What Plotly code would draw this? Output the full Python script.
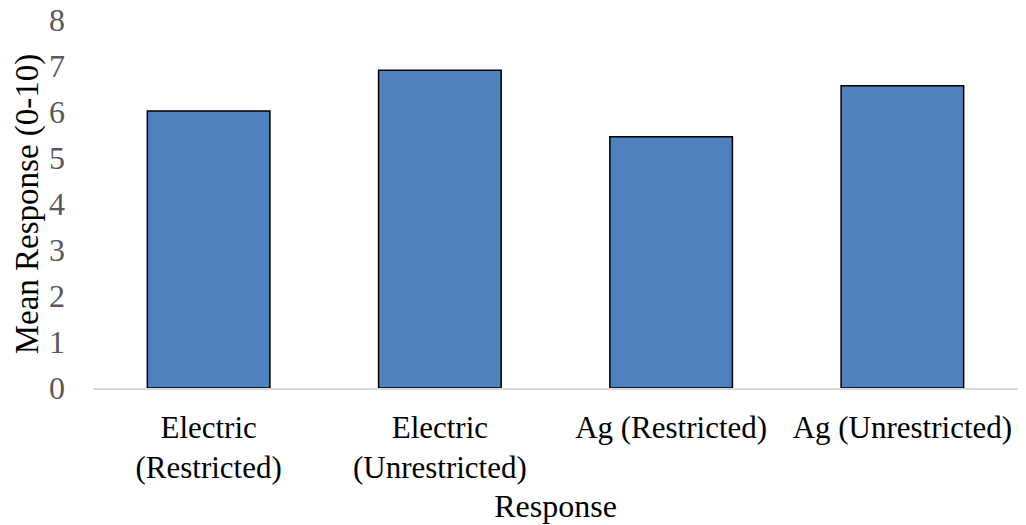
import plotly.graph_objects as go

categories = ["Electric<br>(Restricted)", "Electric<br>(Unrestricted)", "Ag (Restricted)", "Ag (Unrestricted)"]
mean_response = [6.02, 6.91, 5.46, 6.57]
y_ticks = [0, 1, 2, 3, 4, 5, 6, 7, 8]

fig = go.Figure()
fig.add_trace(go.Bar(
    x=categories,
    y=mean_response,
    marker=dict(color="#4f81bd", line=dict(color="#000000", width=1.5)),
))

font_family = "Liberation Serif"
fig.update_layout(
    width=1026, height=525,
    margin=dict(l=85, r=16, t=12, b=145),
    paper_bgcolor="white", plot_bgcolor="white",
    bargap=0.47,
    showlegend=False,
    font=dict(family=font_family, color="#000000"),
)
fig.update_xaxes(
    automargin=False,
    showline=True, linecolor="#d9d9d9", linewidth=1.5,
    showgrid=False, ticks="",
    tickfont=dict(family=font_family, size=31, color="#000000"),
    ticklabelstandoff=11,
    title=dict(text="Response", font=dict(family=font_family, size=32, color="#000000"), standoff=10),
)
fig.update_yaxes(
    automargin=False,
    range=[0, 8], tickvals=y_ticks,
    showline=False, showgrid=False, zeroline=False, ticks="",
    tickfont=dict(family=font_family, size=32, color="#595959"),
    ticklabelstandoff=27,
    ticklabeloverflow="allow",
    title=dict(text="Mean Response (0-10)", font=dict(family=font_family, size=33, color="#000000"), standoff=0),
)
fig.write_html("out.html")
